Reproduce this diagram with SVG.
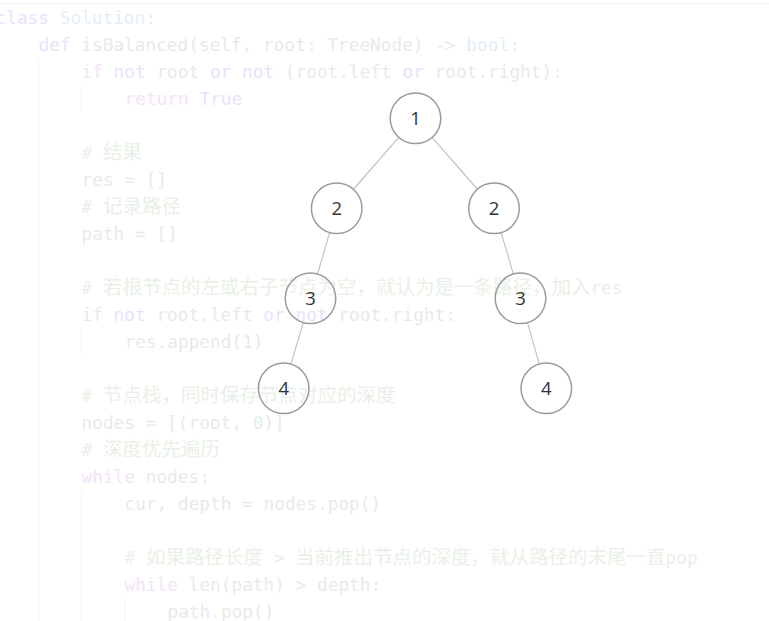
<svg xmlns="http://www.w3.org/2000/svg" width="769" height="621" viewBox="0 0 769 621">
<style>
.code{font-family:"DejaVu Sans Mono","Liberation Mono",monospace;font-size:17.77px;fill:#ebe9e7}
.k1{fill:#f3e3f7}
.k2{fill:#e5e4fb}
.cm{fill:#e9f0e6}
.num{fill:#e0efe9}
.ty{fill:#e3eff4}
.cj{font-family:"Noto Sans CJK SC",sans-serif;font-size:19.5px}
.guide{stroke:#f2f2f2;stroke-width:1}
.node circle{fill:none;stroke:#9a9a9a;stroke-width:1.5}
.node text{font-family:"Open Sans","Noto Sans",sans-serif;font-size:18.5px;fill:#333;text-anchor:middle}
.edge{stroke:#c2c2c2;stroke-width:1.2}
</style>
<rect width="769" height="621" fill="#fff"/>
<line x1="0" y1="3.5" x2="769" y2="3.5" stroke="#f4f4f4"/>
<g id="code-guides">
<line class="guide" x1="38.5" y1="58" x2="38.5" y2="621"/>
<line class="guide" x1="81.5" y1="85" x2="81.5" y2="112"/>
<line class="guide" x1="81.5" y1="328" x2="81.5" y2="355"/>
<line class="guide" x1="81.5" y1="490" x2="81.5" y2="621"/>
<line class="guide" x1="124.5" y1="598" x2="124.5" y2="621"/>
</g>
<g id="code" class="code" xml:space="preserve">
<text x="-4.5" y="23.5"><tspan class="k2">class</tspan> <tspan class="ty">Solution</tspan>:</text>
<text x="38.5" y="50.5"><tspan class="k2">def</tspan> isBalanced(self, root: TreeNode) -&gt; <tspan class="ty">bool</tspan>:</text>
<text x="81.5" y="77.5"><tspan class="k1">if</tspan> <tspan class="k2">not</tspan> root <tspan class="k2">or</tspan> <tspan class="k2">not</tspan> (root.left <tspan class="k2">or</tspan> root.right):</text>
<text x="124.5" y="104.5"><tspan class="k1">return</tspan> <tspan class="k2">True</tspan></text>
<text x="81.5" y="158.5" class="cm"># <tspan class="cj">结果</tspan></text>
<text x="81.5" y="185.5">res = []</text>
<text x="81.5" y="212.5" class="cm"># <tspan class="cj">记录路径</tspan></text>
<text x="81.5" y="239.5">path = []</text>
<text x="81.5" y="293.5" class="cm"># <tspan class="cj">若根节点的左或右子节点为空，就认为是一条路径，加入</tspan>res</text>
<text x="81.5" y="320.5"><tspan class="k1">if</tspan> <tspan class="k2">not</tspan> root.left <tspan class="k2">or</tspan> <tspan class="k2">not</tspan> root.right:</text>
<text x="124.5" y="347.5">res.append(<tspan class="num">1</tspan>)</text>
<text x="81.5" y="401.5" class="cm"># <tspan class="cj">节点栈，同时保存节点对应的深度</tspan></text>
<text x="81.5" y="428.5">nodes = [(root, <tspan class="num">0</tspan>)]</text>
<text x="81.5" y="455.5" class="cm"># <tspan class="cj">深度优先遍历</tspan></text>
<text x="81.5" y="482.5"><tspan class="k1">while</tspan> nodes:</text>
<text x="124.5" y="509.5">cur, depth = nodes.pop()</text>
<text x="124.5" y="563.5" class="cm"># <tspan class="cj">如果路径长度</tspan> &gt; <tspan class="cj">当前推出节点的深度，就从路径的末尾一直</tspan>pop</text>
<text x="124.5" y="590.5"><tspan class="k1">while</tspan> len(path) &gt; depth:</text>
<text x="167.5" y="617.5">path.pop()</text>
</g>
<g id="connectors">
<line class="edge" x1="399" y1="137.1" x2="353.2" y2="189.5"/>
<line class="edge" x1="431.9" y1="137.1" x2="477.6" y2="189.5"/>
<line class="edge" x1="329.7" y1="232.3" x2="317.5" y2="274.3"/>
<line class="edge" x1="501.1" y1="232.3" x2="513.4" y2="274.3"/>
<line class="edge" x1="303.4" y1="322.3" x2="290.8" y2="364.3"/>
<line class="edge" x1="527.4" y1="322.3" x2="539.4" y2="364.3"/>
</g>
<g id="node-1" class="node"><circle cx="415.5" cy="118.3" r="25.3"/><text x="415.5" y="125">1</text></g>
<g id="node-2-left" class="node"><circle cx="336.7" cy="208.3" r="25.3"/><text x="336.7" y="215">2</text></g>
<g id="node-2-right" class="node"><circle cx="494" cy="208.3" r="25.3"/><text x="494" y="215">2</text></g>
<g id="node-3-left" class="node"><circle cx="310.5" cy="298.3" r="25.3"/><text x="310.5" y="305">3</text></g>
<g id="node-3-right" class="node"><circle cx="520.5" cy="298.3" r="25.3"/><text x="520.5" y="305">3</text></g>
<g id="node-4-left" class="node"><circle cx="283.7" cy="388.3" r="25.3"/><text x="283.7" y="395">4</text></g>
<g id="node-4-right" class="node"><circle cx="546.3" cy="388.3" r="25.3"/><text x="546.3" y="395">4</text></g>
</svg>
